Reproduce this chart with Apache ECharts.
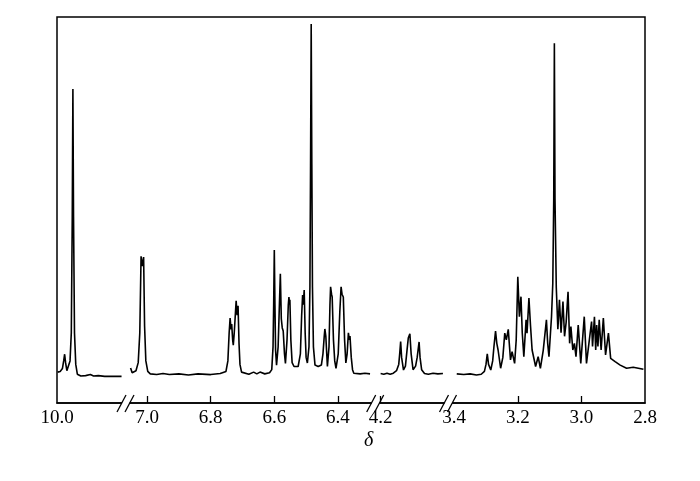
<!DOCTYPE html>
<html>
<head>
<meta charset="utf-8">
<script src="https://cdn.jsdelivr.net/npm/echarts@6/dist/echarts.min.js"></script>
<style>
html,body{margin:0;padding:0;background:#fff;}
#chart{width:700px;height:481px;}
</style>
</head>
<body>
<div id="chart"></div>
<script>
// Chemical shift (ppm) and relative intensity
var seg1 = [[9.998,0.8],[9.990,1.0],[9.983,1.8],[9.979,4.0],[9.976,5.9],[9.973,3.5],[9.969,1.2],[9.964,1.5],[9.959,4],[9.955,12],[9.952,45],[9.950,81.5],[9.948,45],[9.945,12],[9.941,3],[9.936,0.2],[9.925,-0.3],[9.910,-0.2],[9.895,0.1],[9.885,-0.3],[9.870,-0.2],[9.850,-0.4],[9.797,-0.4]];

var seg2 = [[7.052,2.0],[7.047,0.6],[7.042,0.3],[7.035,1.2],[7.028,3.5],[7.023,12],[7.019,33.8],[7.015,31],[7.011,33.6],[7.008,14],[7.004,4],[6.998,1],[6.990,0.3],[6.970,0.1],[6.950,0.4],[6.930,0.1],[6.900,0.3],[6.870,0.0],[6.840,0.3],[6.800,0.1],[6.770,0.4],[6.752,1.0],[6.746,4],[6.742,12],[6.739,16.2],[6.736,13],[6.734,14.5],[6.731,10],[6.729,8.5],[6.726,12],[6.720,21.1],[6.717,17],[6.714,19.7],[6.711,9],[6.708,3],[6.703,0.8],[6.700,0.4],[6.680,0.2],[6.665,0.8],[6.655,0.3],[6.645,0.8],[6.630,0.3],[6.615,0.6],[6.608,1.5],[6.604,8],[6.602,20],[6.600,35.6],[6.598,20],[6.596,7],[6.593,2.8],[6.588,8],[6.584,20],[6.581,28.8],[6.578,16],[6.575,13.4],[6.572,12.5],[6.568,6],[6.565,3.3],[6.560,10],[6.556,20],[6.554,22.2],[6.552,20],[6.551,21.4],[6.548,10],[6.544,3.5],[6.538,2.4],[6.525,2.4],[6.518,6],[6.514,17],[6.511,22.8],[6.509,20],[6.506,24.2],[6.503,12],[6.500,5],[6.496,3.4],[6.491,8],[6.488,25],[6.486,60],[6.484,100],[6.482,60],[6.480,25],[6.477,8],[6.472,2.8],[6.462,2.4],[6.452,2.8],[6.447,6],[6.443,11],[6.441,13.1],[6.438,11],[6.435,10.8],[6.433,2.4],[6.428,8],[6.425,20],[6.423,25.1],[6.420,23],[6.418,22.2],[6.414,10],[6.410,4],[6.406,1.9],[6.399,6],[6.394,18],[6.390,25.1],[6.387,23],[6.383,22.2],[6.379,10],[6.375,3.4],[6.371,6],[6.367,12],[6.364,10],[6.362,11.1],[6.358,5],[6.354,1.5],[6.350,0.5],[6.330,0.3],[6.315,0.5],[6.299,0.3]];

var seg3 = [[4.200,0.4],[4.190,0.2],[4.180,0.5],[4.170,0.2],[4.160,0.5],[4.150,1.2],[4.143,3],[4.140,6],[4.137,9.5],[4.134,5],[4.128,1.4],[4.122,2.5],[4.117,7],[4.113,10.5],[4.110,10],[4.108,11.7],[4.104,6],[4.098,1.5],[4.090,2.5],[4.085,5],[4.079,9.4],[4.076,5],[4.071,1.5],[4.062,0.4],[4.050,0.2],[4.035,0.5],[4.020,0.3],[4.004,0.4]];

var seg4 = [[3.392,0.3],[3.370,0.1],[3.350,0.3],[3.330,0.0],[3.315,0.2],[3.305,1],[3.300,3],[3.296,6.0],[3.292,3],[3.285,1.4],[3.279,4],[3.275,8.1],[3.270,12.5],[3.266,9],[3.262,7.1],[3.254,1.9],[3.247,5],[3.241,11.9],[3.236,10.0],[3.230,13.0],[3.226,8],[3.223,4.3],[3.218,6.6],[3.210,3.3],[3.205,10],[3.200,28.0],[3.195,16.6],[3.190,22.3],[3.186,12],[3.181,5.2],[3.174,15.7],[3.171,11.9],[3.165,21.9],[3.160,14],[3.155,7.1],[3.144,2.4],[3.136,5.2],[3.129,1.9],[3.120,7],[3.110,15.7],[3.106,9],[3.102,5.2],[3.094,16.6],[3.090,26],[3.087,50],[3.085,94.5],[3.083,50],[3.079,25],[3.074,13],[3.069,21.4],[3.064,12],[3.058,20.9],[3.053,11],[3.048,15],[3.042,23.7],[3.037,9],[3.033,13.8],[3.027,7.1],[3.022,9.0],[3.017,5.2],[3.010,14.2],[3.002,3.3],[2.991,16.6],[2.984,3.3],[2.975,10.0],[2.968,15.2],[2.965,8.1],[2.959,16.6],[2.955,7.1],[2.952,14.2],[2.948,8.1],[2.944,15.7],[2.938,7.1],[2.931,16.2],[2.924,5.7],[2.915,11.9],[2.908,4.7],[2.894,3.8],[2.878,2.8],[2.858,1.9],[2.837,2.2],[2.821,1.9],[2.805,1.6]];

var labels1 = [10.0];
var labels2 = [7.0, 6.8, 6.6, 6.4];
var labels3 = [4.2];
var labels4 = [3.4, 3.2, 3.0, 2.8];
var ticks1 = [];
var ticks2 = [7.0, 6.8, 6.6, 6.4];
var ticks3 = [4.2];
var ticks4 = [3.2, 3.0];
var axisName = 'δ';

var chart = echarts.init(document.getElementById('chart'), null, {renderer: 'canvas'});

var FONT = '"Liberation Serif","Times New Roman",serif';
var TOP = 17, BOTTOM = 78;
var segs = [
  {left: 57,  width: 69,  min: 9.783, max: 10.0,   data: seg1, labels: labels1, ticks: ticks1},
  {left: 126, width: 250, min: 6.2802, max: 7.0664, data: seg2, labels: labels2, ticks: ticks2},
  {left: 376, width: 72,  min: 3.9881, max: 4.2145, data: seg3, labels: labels3, ticks: ticks3},
  {left: 448, width: 197, min: 2.8,   max: 3.4195, data: seg4, labels: labels4, ticks: ticks4}
];

var grids = [], xAxes = [], yAxes = [], series = [];
segs.forEach(function (s, i) {
  grids.push({left: s.left, width: s.width, top: TOP, bottom: BOTTOM, containLabel: false});
  xAxes.push({
    gridIndex: i, type: 'value', inverse: true, min: s.min, max: s.max,
    axisLine: {show: true, onZero: false, lineStyle: {color: '#000', width: 1.5}},
    splitLine: {show: false},
    axisTick: {show: s.ticks.length > 0, inside: true, length: 7, customValues: s.ticks, lineStyle: {color: '#000', width: 1.3}},
    axisLabel: {show: true, customValues: s.labels, margin: 6, color: '#000', fontFamily: FONT, fontSize: 19,
      formatter: function (v) { return Number(v).toFixed(1); }}
  });
  yAxes.push({gridIndex: i, type: 'value', min: -8, max: 102, show: false});
  series.push({
    type: 'line', xAxisIndex: i, yAxisIndex: i, data: s.data, showSymbol: false, symbol: 'none',
    smooth: false, animation: false, clip: true,
    lineStyle: {color: '#000', width: 1.6}
  });
});
// frame grid
grids.push({left: 57, right: 55, top: TOP, bottom: BOTTOM, show: true, borderColor: '#000', borderWidth: 1.5, backgroundColor: 'transparent'});
xAxes.push({gridIndex: 4, type: 'value', show: false, min: 0, max: 1});
yAxes.push({gridIndex: 4, type: 'value', show: false, min: 0, max: 1});

function breakMark(c) {
  var yAx = 481 - BOTTOM;
  return [
    {type: 'rect', shape: {x: c - 4, y: yAx - 2, width: 7.6, height: 4}, style: {fill: '#fff'}, z: 100},
    {type: 'line', shape: {x1: c - 9, y1: yAx + 9, x2: c, y2: yAx - 8}, style: {stroke: '#000', lineWidth: 1.3}, z: 101},
    {type: 'line', shape: {x1: c - 1, y1: yAx + 9, x2: c + 8, y2: yAx - 8}, style: {stroke: '#000', lineWidth: 1.3}, z: 101}
  ];
}

var graphics = [].concat(breakMark(126), breakMark(375.7), breakMark(448.5));
graphics.push({type: 'text', left: 364, top: 431, z: 101,
  style: {text: axisName, fontFamily: FONT, fontStyle: 'italic', fontSize: 20, fill: '#000'}});

chart.setOption({
  animation: false,
  backgroundColor: '#fff',
  grid: grids,
  xAxis: xAxes,
  yAxis: yAxes,
  series: series,
  graphic: graphics
});
</script>
</body>
</html>
